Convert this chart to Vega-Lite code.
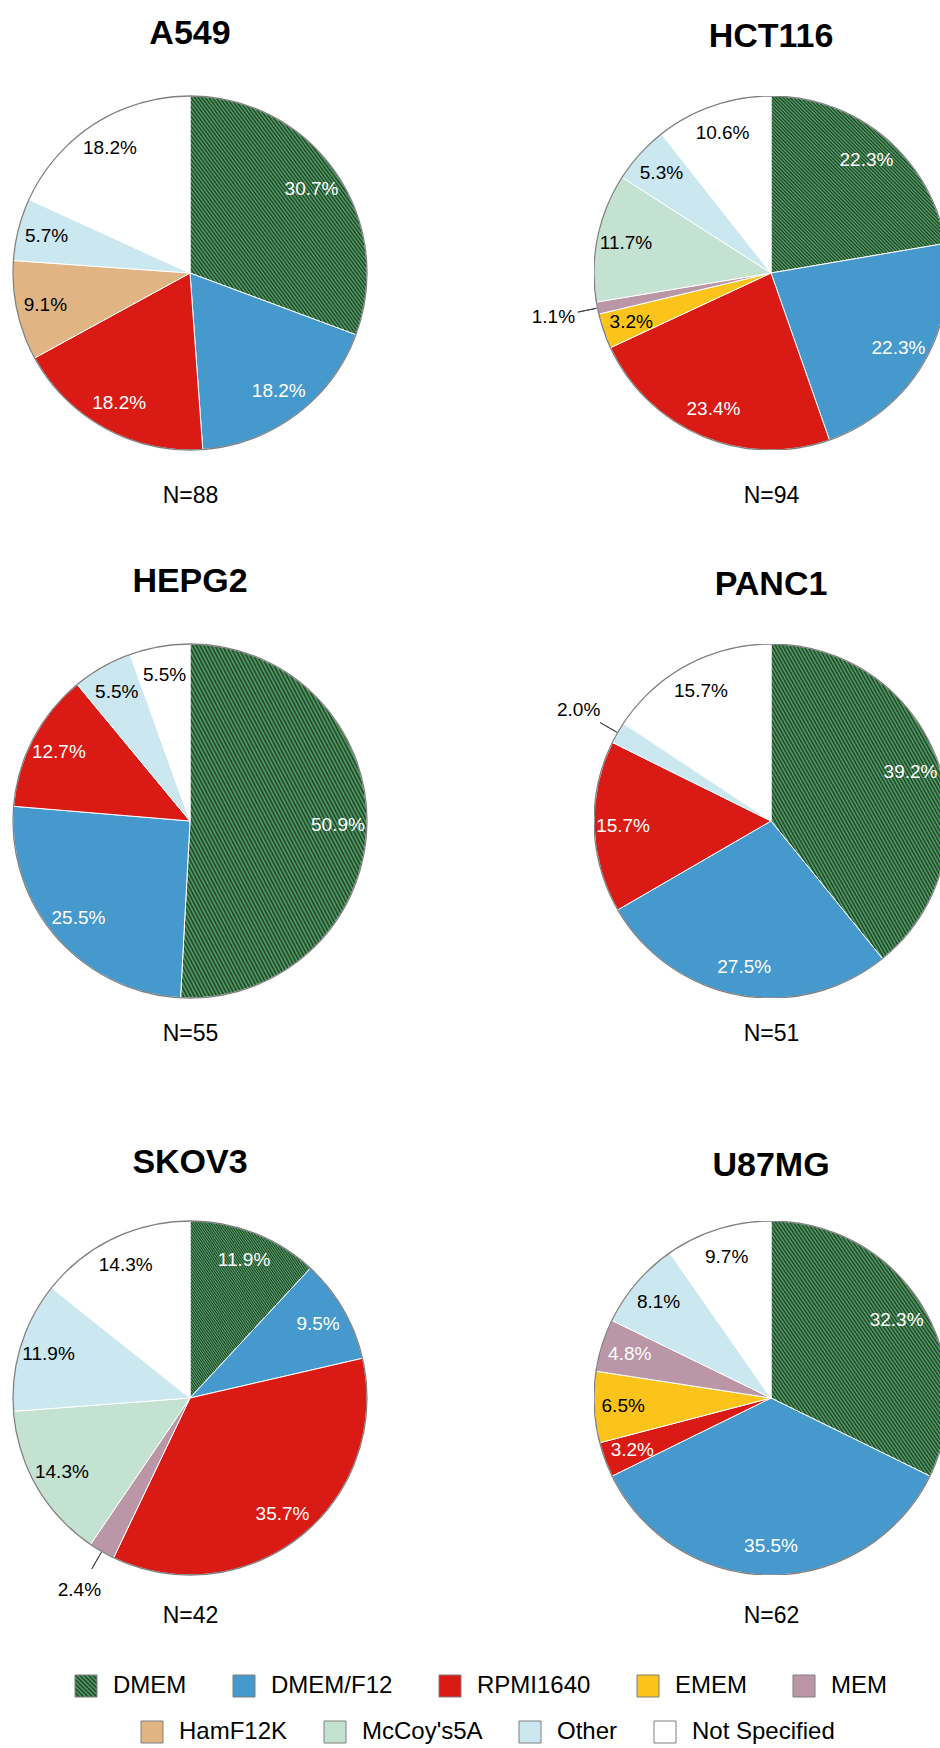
{
"$schema": "https://vega.github.io/schema/vega-lite/v6.json",
"padding": {"left": 10, "top": 17, "right": 0, "bottom": 0},
"params": [
 {"name": "hatch", "value": {"gradient": "linear", "x1": 0, "y1": 1, "x2": 1, "y2": 0, "stops": [
{"offset":0,"color":"#1e3a2a"},{"offset":0.005,"color":"#55a864"},{"offset":0.01,"color":"#1e3a2a"},{"offset":0.015,"color":"#55a864"},{"offset":0.02,"color":"#1e3a2a"},{"offset":0.025,"color":"#55a864"},{"offset":0.03,"color":"#1e3a2a"},{"offset":0.035,"color":"#55a864"},{"offset":0.04,"color":"#1e3a2a"},{"offset":0.045,"color":"#55a864"},
{"offset":0.05,"color":"#1e3a2a"},{"offset":0.055,"color":"#55a864"},{"offset":0.06,"color":"#1e3a2a"},{"offset":0.065,"color":"#55a864"},{"offset":0.07,"color":"#1e3a2a"},{"offset":0.075,"color":"#55a864"},{"offset":0.08,"color":"#1e3a2a"},{"offset":0.085,"color":"#55a864"},{"offset":0.09,"color":"#1e3a2a"},{"offset":0.095,"color":"#55a864"},
{"offset":0.1,"color":"#1e3a2a"},{"offset":0.105,"color":"#55a864"},{"offset":0.11,"color":"#1e3a2a"},{"offset":0.115,"color":"#55a864"},{"offset":0.12,"color":"#1e3a2a"},{"offset":0.125,"color":"#55a864"},{"offset":0.13,"color":"#1e3a2a"},{"offset":0.135,"color":"#55a864"},{"offset":0.14,"color":"#1e3a2a"},{"offset":0.145,"color":"#55a864"},
{"offset":0.15,"color":"#1e3a2a"},{"offset":0.155,"color":"#55a864"},{"offset":0.16,"color":"#1e3a2a"},{"offset":0.165,"color":"#55a864"},{"offset":0.17,"color":"#1e3a2a"},{"offset":0.175,"color":"#55a864"},{"offset":0.18,"color":"#1e3a2a"},{"offset":0.185,"color":"#55a864"},{"offset":0.19,"color":"#1e3a2a"},{"offset":0.195,"color":"#55a864"},
{"offset":0.2,"color":"#1e3a2a"},{"offset":0.205,"color":"#55a864"},{"offset":0.21,"color":"#1e3a2a"},{"offset":0.215,"color":"#55a864"},{"offset":0.22,"color":"#1e3a2a"},{"offset":0.225,"color":"#55a864"},{"offset":0.23,"color":"#1e3a2a"},{"offset":0.235,"color":"#55a864"},{"offset":0.24,"color":"#1e3a2a"},{"offset":0.245,"color":"#55a864"},
{"offset":0.25,"color":"#1e3a2a"},{"offset":0.255,"color":"#55a864"},{"offset":0.26,"color":"#1e3a2a"},{"offset":0.265,"color":"#55a864"},{"offset":0.27,"color":"#1e3a2a"},{"offset":0.275,"color":"#55a864"},{"offset":0.28,"color":"#1e3a2a"},{"offset":0.285,"color":"#55a864"},{"offset":0.29,"color":"#1e3a2a"},{"offset":0.295,"color":"#55a864"},
{"offset":0.3,"color":"#1e3a2a"},{"offset":0.305,"color":"#55a864"},{"offset":0.31,"color":"#1e3a2a"},{"offset":0.315,"color":"#55a864"},{"offset":0.32,"color":"#1e3a2a"},{"offset":0.325,"color":"#55a864"},{"offset":0.33,"color":"#1e3a2a"},{"offset":0.335,"color":"#55a864"},{"offset":0.34,"color":"#1e3a2a"},{"offset":0.345,"color":"#55a864"},
{"offset":0.35,"color":"#1e3a2a"},{"offset":0.355,"color":"#55a864"},{"offset":0.36,"color":"#1e3a2a"},{"offset":0.365,"color":"#55a864"},{"offset":0.37,"color":"#1e3a2a"},{"offset":0.375,"color":"#55a864"},{"offset":0.38,"color":"#1e3a2a"},{"offset":0.385,"color":"#55a864"},{"offset":0.39,"color":"#1e3a2a"},{"offset":0.395,"color":"#55a864"},
{"offset":0.4,"color":"#1e3a2a"},{"offset":0.405,"color":"#55a864"},{"offset":0.41,"color":"#1e3a2a"},{"offset":0.415,"color":"#55a864"},{"offset":0.42,"color":"#1e3a2a"},{"offset":0.425,"color":"#55a864"},{"offset":0.43,"color":"#1e3a2a"},{"offset":0.435,"color":"#55a864"},{"offset":0.44,"color":"#1e3a2a"},{"offset":0.445,"color":"#55a864"},
{"offset":0.45,"color":"#1e3a2a"},{"offset":0.455,"color":"#55a864"},{"offset":0.46,"color":"#1e3a2a"},{"offset":0.465,"color":"#55a864"},{"offset":0.47,"color":"#1e3a2a"},{"offset":0.475,"color":"#55a864"},{"offset":0.48,"color":"#1e3a2a"},{"offset":0.485,"color":"#55a864"},{"offset":0.49,"color":"#1e3a2a"},{"offset":0.495,"color":"#55a864"},
{"offset":0.5,"color":"#1e3a2a"},{"offset":0.505,"color":"#55a864"},{"offset":0.51,"color":"#1e3a2a"},{"offset":0.515,"color":"#55a864"},{"offset":0.52,"color":"#1e3a2a"},{"offset":0.525,"color":"#55a864"},{"offset":0.53,"color":"#1e3a2a"},{"offset":0.535,"color":"#55a864"},{"offset":0.54,"color":"#1e3a2a"},{"offset":0.545,"color":"#55a864"},
{"offset":0.55,"color":"#1e3a2a"},{"offset":0.555,"color":"#55a864"},{"offset":0.56,"color":"#1e3a2a"},{"offset":0.565,"color":"#55a864"},{"offset":0.57,"color":"#1e3a2a"},{"offset":0.575,"color":"#55a864"},{"offset":0.58,"color":"#1e3a2a"},{"offset":0.585,"color":"#55a864"},{"offset":0.59,"color":"#1e3a2a"},{"offset":0.595,"color":"#55a864"},
{"offset":0.6,"color":"#1e3a2a"},{"offset":0.605,"color":"#55a864"},{"offset":0.61,"color":"#1e3a2a"},{"offset":0.615,"color":"#55a864"},{"offset":0.62,"color":"#1e3a2a"},{"offset":0.625,"color":"#55a864"},{"offset":0.63,"color":"#1e3a2a"},{"offset":0.635,"color":"#55a864"},{"offset":0.64,"color":"#1e3a2a"},{"offset":0.645,"color":"#55a864"},
{"offset":0.65,"color":"#1e3a2a"},{"offset":0.655,"color":"#55a864"},{"offset":0.66,"color":"#1e3a2a"},{"offset":0.665,"color":"#55a864"},{"offset":0.67,"color":"#1e3a2a"},{"offset":0.675,"color":"#55a864"},{"offset":0.68,"color":"#1e3a2a"},{"offset":0.685,"color":"#55a864"},{"offset":0.69,"color":"#1e3a2a"},{"offset":0.695,"color":"#55a864"},
{"offset":0.7,"color":"#1e3a2a"},{"offset":0.705,"color":"#55a864"},{"offset":0.71,"color":"#1e3a2a"},{"offset":0.715,"color":"#55a864"},{"offset":0.72,"color":"#1e3a2a"},{"offset":0.725,"color":"#55a864"},{"offset":0.73,"color":"#1e3a2a"},{"offset":0.735,"color":"#55a864"},{"offset":0.74,"color":"#1e3a2a"},{"offset":0.745,"color":"#55a864"},
{"offset":0.75,"color":"#1e3a2a"},{"offset":0.755,"color":"#55a864"},{"offset":0.76,"color":"#1e3a2a"},{"offset":0.765,"color":"#55a864"},{"offset":0.77,"color":"#1e3a2a"},{"offset":0.775,"color":"#55a864"},{"offset":0.78,"color":"#1e3a2a"},{"offset":0.785,"color":"#55a864"},{"offset":0.79,"color":"#1e3a2a"},{"offset":0.795,"color":"#55a864"},
{"offset":0.8,"color":"#1e3a2a"},{"offset":0.805,"color":"#55a864"},{"offset":0.81,"color":"#1e3a2a"},{"offset":0.815,"color":"#55a864"},{"offset":0.82,"color":"#1e3a2a"},{"offset":0.825,"color":"#55a864"},{"offset":0.83,"color":"#1e3a2a"},{"offset":0.835,"color":"#55a864"},{"offset":0.84,"color":"#1e3a2a"},{"offset":0.845,"color":"#55a864"},
{"offset":0.85,"color":"#1e3a2a"},{"offset":0.855,"color":"#55a864"},{"offset":0.86,"color":"#1e3a2a"},{"offset":0.865,"color":"#55a864"},{"offset":0.87,"color":"#1e3a2a"},{"offset":0.875,"color":"#55a864"},{"offset":0.88,"color":"#1e3a2a"},{"offset":0.885,"color":"#55a864"},{"offset":0.89,"color":"#1e3a2a"},{"offset":0.895,"color":"#55a864"},
{"offset":0.9,"color":"#1e3a2a"},{"offset":0.905,"color":"#55a864"},{"offset":0.91,"color":"#1e3a2a"},{"offset":0.915,"color":"#55a864"},{"offset":0.92,"color":"#1e3a2a"},{"offset":0.925,"color":"#55a864"},{"offset":0.93,"color":"#1e3a2a"},{"offset":0.935,"color":"#55a864"},{"offset":0.94,"color":"#1e3a2a"},{"offset":0.945,"color":"#55a864"},
{"offset":0.95,"color":"#1e3a2a"},{"offset":0.955,"color":"#55a864"},{"offset":0.96,"color":"#1e3a2a"},{"offset":0.965,"color":"#55a864"},{"offset":0.97,"color":"#1e3a2a"},{"offset":0.975,"color":"#55a864"},{"offset":0.98,"color":"#1e3a2a"},{"offset":0.985,"color":"#55a864"},{"offset":0.99,"color":"#1e3a2a"},{"offset":0.995,"color":"#55a864"},
{"offset":1,"color":"#1e3a2a"}
 ]}},
 {"name": "hatchL", "value": {"gradient": "linear", "x1": 0, "y1": 1, "x2": 1, "y2": 0, "stops": [
{"offset":0,"color":"#1e3a2a"},{"offset":0.05,"color":"#55a864"},{"offset":0.1,"color":"#1e3a2a"},{"offset":0.15,"color":"#55a864"},{"offset":0.2,"color":"#1e3a2a"},{"offset":0.25,"color":"#55a864"},{"offset":0.3,"color":"#1e3a2a"},{"offset":0.35,"color":"#55a864"},{"offset":0.4,"color":"#1e3a2a"},{"offset":0.45,"color":"#55a864"},{"offset":0.5,"color":"#1e3a2a"},{"offset":0.55,"color":"#55a864"},{"offset":0.6,"color":"#1e3a2a"},{"offset":0.65,"color":"#55a864"},{"offset":0.7,"color":"#1e3a2a"},{"offset":0.75,"color":"#55a864"},{"offset":0.8,"color":"#1e3a2a"},{"offset":0.85,"color":"#55a864"},{"offset":0.9,"color":"#1e3a2a"},{"offset":0.95,"color":"#55a864"},{"offset":1,"color":"#1e3a2a"}
 ]}}
],
"datasets": {"media": [
 {"cell":"A549","n":88,"medium":"DMEM","k":1,"share":0.307},
 {"cell":"A549","n":88,"medium":"DMEM/F12","k":2,"share":0.182},
 {"cell":"A549","n":88,"medium":"RPMI1640","k":3,"share":0.182},
 {"cell":"A549","n":88,"medium":"HamF12K","k":6,"share":0.091},
 {"cell":"A549","n":88,"medium":"Other","k":8,"share":0.057},
 {"cell":"A549","n":88,"medium":"Not Specified","k":9,"share":0.182},
 {"cell":"HCT116","n":94,"medium":"DMEM","k":1,"share":0.223},
 {"cell":"HCT116","n":94,"medium":"DMEM/F12","k":2,"share":0.223},
 {"cell":"HCT116","n":94,"medium":"RPMI1640","k":3,"share":0.234},
 {"cell":"HCT116","n":94,"medium":"EMEM","k":4,"share":0.032},
 {"cell":"HCT116","n":94,"medium":"MEM","k":5,"share":0.011},
 {"cell":"HCT116","n":94,"medium":"McCoy's5A","k":7,"share":0.117},
 {"cell":"HCT116","n":94,"medium":"Other","k":8,"share":0.053},
 {"cell":"HCT116","n":94,"medium":"Not Specified","k":9,"share":0.106},
 {"cell":"HEPG2","n":55,"medium":"DMEM","k":1,"share":0.509},
 {"cell":"HEPG2","n":55,"medium":"DMEM/F12","k":2,"share":0.255},
 {"cell":"HEPG2","n":55,"medium":"RPMI1640","k":3,"share":0.127},
 {"cell":"HEPG2","n":55,"medium":"Other","k":8,"share":0.055},
 {"cell":"HEPG2","n":55,"medium":"Not Specified","k":9,"share":0.055},
 {"cell":"PANC1","n":51,"medium":"DMEM","k":1,"share":0.392},
 {"cell":"PANC1","n":51,"medium":"DMEM/F12","k":2,"share":0.275},
 {"cell":"PANC1","n":51,"medium":"RPMI1640","k":3,"share":0.157},
 {"cell":"PANC1","n":51,"medium":"Other","k":8,"share":0.020},
 {"cell":"PANC1","n":51,"medium":"Not Specified","k":9,"share":0.157},
 {"cell":"SKOV3","n":42,"medium":"DMEM","k":1,"share":0.119},
 {"cell":"SKOV3","n":42,"medium":"DMEM/F12","k":2,"share":0.095},
 {"cell":"SKOV3","n":42,"medium":"RPMI1640","k":3,"share":0.357},
 {"cell":"SKOV3","n":42,"medium":"MEM","k":5,"share":0.024},
 {"cell":"SKOV3","n":42,"medium":"McCoy's5A","k":7,"share":0.143},
 {"cell":"SKOV3","n":42,"medium":"Other","k":8,"share":0.119},
 {"cell":"SKOV3","n":42,"medium":"Not Specified","k":9,"share":0.143},
 {"cell":"U87MG","n":62,"medium":"DMEM","k":1,"share":0.323},
 {"cell":"U87MG","n":62,"medium":"DMEM/F12","k":2,"share":0.355},
 {"cell":"U87MG","n":62,"medium":"RPMI1640","k":3,"share":0.032},
 {"cell":"U87MG","n":62,"medium":"EMEM","k":4,"share":0.065},
 {"cell":"U87MG","n":62,"medium":"MEM","k":5,"share":0.048},
 {"cell":"U87MG","n":62,"medium":"Other","k":8,"share":0.081},
 {"cell":"U87MG","n":62,"medium":"Not Specified","k":9,"share":0.097}
]},
"spacing": 58,
"vconcat": [
 {"hconcat": [
  {"width":354,"height":354,"title":{"text":"A549","offset":42},
   "data":{"name":"media"},"transform":[{"filter":"datum.cell === 'A549'"}],
   "layer":[
    {"mark":{"type":"arc","outerRadius":0},
     "encoding":{"fill":{"field":"medium","type":"nominal","scale":{"domain":["DMEM","DMEM/F12","RPMI1640","EMEM","MEM","HamF12K","McCoy's5A","Other","Not Specified"],"range":[{"expr":"hatchL"},"#4599cd","#da1a14","#fcc31a","#ba96a7","#e1b583","#c4e2d2","#cbe7ef","#ffffff"]},
       "legend":{"values":["DMEM","DMEM/F12","RPMI1640","EMEM","MEM"],"orient":"none","legendX":61,"legendY":1578,"direction":"horizontal","columns":5,"gridAlign":"none","columnPadding":44,"title":null}}}},
    {"mark":{"type":"arc","outerRadius":0},
     "encoding":{"color":{"field":"medium","type":"nominal","scale":{"domain":["HamF12K","McCoy's5A","Other","Not Specified"],"range":["#e1b583","#c4e2d2","#cbe7ef","#ffffff"]},
       "legend":{"orient":"none","legendX":127,"legendY":1624,"direction":"horizontal","columns":4,"gridAlign":"none","columnPadding":34,"title":null}}}},
    {"mark":{"type":"arc","outerRadius":177,"stroke":"#ffffff","strokeWidth":1},
     "encoding":{"theta":{"field":"share","type":"quantitative","stack":"normalize"},"order":{"field":"k","type":"quantitative"},
      "fill":{"condition":{"test":"datum.k === 1","value":{"expr":"hatch"}},"field":"medium","type":"nominal","scale":{"domain":["DMEM","DMEM/F12","RPMI1640","EMEM","MEM","HamF12K","McCoy's5A","Other","Not Specified"],"range":[{"expr":"hatchL"},"#4599cd","#da1a14","#fcc31a","#ba96a7","#e1b583","#c4e2d2","#cbe7ef","#ffffff"]},"legend":null}}},
    {"transform":[{"filter":"datum.k === 1"}],"mark":{"type":"arc","outerRadius":177,"theta":0,"theta2":6.2832,"fill":"transparent","stroke":"#808080","strokeWidth":1.3},"encoding":{}},
    {"mark":{"type":"text","radius":148},
     "encoding":{"theta":{"field":"share","type":"quantitative","stack":"normalize"},"order":{"field":"k","type":"quantitative"},"detail":{"field":"medium","type":"nominal"},
      "text":{"condition":{"test":"datum.share >= 0.03","field":"share","type":"quantitative","format":".1%"},"value":""},
      "fill":{"condition":{"test":"datum.k <= 3 || datum.k === 5","value":"#ffffff"},"value":"#000000"}}},
    {"mark":{"type":"text","text":""},"encoding":{"x":{"field":"n","type":"nominal","axis":{"title":null,"labelExpr":"'N=' + datum.label","labelPadding":34}}}}
   ]},
  {"width":346,"height":354,"title":{"text":"HCT116","offset":42,"dx":4},
   "data":{"name":"media"},"transform":[{"filter":"datum.cell === 'HCT116'"}],
   "resolve":{"scale":{"radius":"independent"}},
   "layer":[
    {"mark":{"type":"arc","outerRadius":177,"stroke":"#ffffff","strokeWidth":1,"clip":true,"xOffset":4},
     "encoding":{"theta":{"field":"share","type":"quantitative","stack":"normalize"},"order":{"field":"k","type":"quantitative"},
      "fill":{"condition":{"test":"datum.k === 1","value":{"expr":"hatch"}},"field":"medium","type":"nominal","scale":{"domain":["DMEM","DMEM/F12","RPMI1640","EMEM","MEM","HamF12K","McCoy's5A","Other","Not Specified"],"range":[{"expr":"hatchL"},"#4599cd","#da1a14","#fcc31a","#ba96a7","#e1b583","#c4e2d2","#cbe7ef","#ffffff"]},"legend":null}}},
    {"transform":[{"filter":"datum.k === 1"}],"mark":{"type":"arc","outerRadius":177,"theta":0,"theta2":6.2832,"fill":"transparent","stroke":"#808080","strokeWidth":1.3,"clip":true,"xOffset":4},"encoding":{}},
    {"mark":{"type":"arc","padAngle":1,"fill":"transparent","stroke":"#404040","strokeWidth":1,"xOffset":4},
     "encoding":{"theta":{"field":"share","type":"quantitative","stack":"normalize"},"order":{"field":"k","type":"quantitative"},"detail":{"field":"medium","type":"nominal"},
      "radius":{"field":"share","type":"quantitative","scale":{"type":"linear","domain":[0.03,0.0299],"range":[0,197],"clamp":true,"nice":false,"zero":false}},
      "radius2":{"value":178},
      "strokeOpacity":{"condition":{"test":"datum.share < 0.03","value":1},"value":0}}},
    {"mark":{"type":"text","radius":148,"xOffset":4},
     "encoding":{"theta":{"field":"share","type":"quantitative","stack":"normalize"},"order":{"field":"k","type":"quantitative"},"detail":{"field":"medium","type":"nominal"},
      "text":{"condition":{"test":"datum.share >= 0.03","field":"share","type":"quantitative","format":".1%"},"value":""},
      "fill":{"condition":{"test":"datum.k <= 3 || datum.k === 5","value":"#ffffff"},"value":"#000000"}}},
    {"mark":{"type":"text","xOffset":4},
     "encoding":{"theta":{"field":"share","type":"quantitative","stack":"normalize"},"order":{"field":"k","type":"quantitative"},"detail":{"field":"medium","type":"nominal"},
      "radius":{"field":"share","type":"quantitative","scale":{"type":"linear","domain":[0.03,0.0299],"range":[0,222],"clamp":true,"nice":false,"zero":false}},
      "text":{"condition":{"test":"datum.share < 0.03","field":"share","type":"quantitative","format":".1%"},"value":""}}},
    {"mark":{"type":"text","text":""},"encoding":{"x":{"field":"n","type":"nominal","axis":{"title":null,"labelExpr":"'N=' + datum.label","labelPadding":34,"labelOffset":4}}}}
   ]}
 ], "spacing": 227, "bounds": "flush"},
 {"spacing": 101, "vconcat": [
  {"hconcat": [
   {"width":354,"height":354,"title":{"text":"HEPG2","offset":42},
    "data":{"name":"media"},"transform":[{"filter":"datum.cell === 'HEPG2'"}],
    "layer":[
     {"mark":{"type":"arc","outerRadius":177,"stroke":"#ffffff","strokeWidth":1},
      "encoding":{"theta":{"field":"share","type":"quantitative","stack":"normalize"},"order":{"field":"k","type":"quantitative"},
       "fill":{"condition":{"test":"datum.k === 1","value":{"expr":"hatch"}},"field":"medium","type":"nominal","scale":{"domain":["DMEM","DMEM/F12","RPMI1640","EMEM","MEM","HamF12K","McCoy's5A","Other","Not Specified"],"range":[{"expr":"hatchL"},"#4599cd","#da1a14","#fcc31a","#ba96a7","#e1b583","#c4e2d2","#cbe7ef","#ffffff"]},"legend":null}}},
     {"transform":[{"filter":"datum.k === 1"}],"mark":{"type":"arc","outerRadius":177,"theta":0,"theta2":6.2832,"fill":"transparent","stroke":"#808080","strokeWidth":1.3},"encoding":{}},
     {"mark":{"type":"text","radius":148},
      "encoding":{"theta":{"field":"share","type":"quantitative","stack":"normalize"},"order":{"field":"k","type":"quantitative"},"detail":{"field":"medium","type":"nominal"},
       "text":{"condition":{"test":"datum.share >= 0.03","field":"share","type":"quantitative","format":".1%"},"value":""},
       "fill":{"condition":{"test":"datum.k <= 3 || datum.k === 5","value":"#ffffff"},"value":"#000000"}}},
     {"mark":{"type":"text","text":""},"encoding":{"x":{"field":"n","type":"nominal","axis":{"title":null,"labelExpr":"'N=' + datum.label","labelPadding":24}}}}
    ]},
   {"width":346,"height":354,"title":{"text":"PANC1","offset":42,"dx":4},
    "data":{"name":"media"},"transform":[{"filter":"datum.cell === 'PANC1'"}],
    "resolve":{"scale":{"radius":"independent"}},
    "layer":[
     {"mark":{"type":"arc","outerRadius":177,"stroke":"#ffffff","strokeWidth":1,"clip":true,"xOffset":4},
      "encoding":{"theta":{"field":"share","type":"quantitative","stack":"normalize"},"order":{"field":"k","type":"quantitative"},
       "fill":{"condition":{"test":"datum.k === 1","value":{"expr":"hatch"}},"field":"medium","type":"nominal","scale":{"domain":["DMEM","DMEM/F12","RPMI1640","EMEM","MEM","HamF12K","McCoy's5A","Other","Not Specified"],"range":[{"expr":"hatchL"},"#4599cd","#da1a14","#fcc31a","#ba96a7","#e1b583","#c4e2d2","#cbe7ef","#ffffff"]},"legend":null}}},
     {"transform":[{"filter":"datum.k === 1"}],"mark":{"type":"arc","outerRadius":177,"theta":0,"theta2":6.2832,"fill":"transparent","stroke":"#808080","strokeWidth":1.3,"clip":true,"xOffset":4},"encoding":{}},
     {"mark":{"type":"arc","padAngle":1,"fill":"transparent","stroke":"#404040","strokeWidth":1,"xOffset":4},
      "encoding":{"theta":{"field":"share","type":"quantitative","stack":"normalize"},"order":{"field":"k","type":"quantitative"},"detail":{"field":"medium","type":"nominal"},
       "radius":{"field":"share","type":"quantitative","scale":{"type":"linear","domain":[0.03,0.0299],"range":[0,197],"clamp":true,"nice":false,"zero":false}},
       "radius2":{"value":178},
       "strokeOpacity":{"condition":{"test":"datum.share < 0.03","value":1},"value":0}}},
     {"mark":{"type":"text","radius":148,"xOffset":4},
      "encoding":{"theta":{"field":"share","type":"quantitative","stack":"normalize"},"order":{"field":"k","type":"quantitative"},"detail":{"field":"medium","type":"nominal"},
       "text":{"condition":{"test":"datum.share >= 0.03","field":"share","type":"quantitative","format":".1%"},"value":""},
       "fill":{"condition":{"test":"datum.k <= 3 || datum.k === 5","value":"#ffffff"},"value":"#000000"}}},
     {"mark":{"type":"text","xOffset":4},
      "encoding":{"theta":{"field":"share","type":"quantitative","stack":"normalize"},"order":{"field":"k","type":"quantitative"},"detail":{"field":"medium","type":"nominal"},
       "radius":{"field":"share","type":"quantitative","scale":{"type":"linear","domain":[0.03,0.0299],"range":[0,222],"clamp":true,"nice":false,"zero":false}},
       "text":{"condition":{"test":"datum.share < 0.03","field":"share","type":"quantitative","format":".1%"},"value":""}}},
     {"mark":{"type":"text","text":""},"encoding":{"x":{"field":"n","type":"nominal","axis":{"title":null,"labelExpr":"'N=' + datum.label","labelPadding":24,"labelOffset":4}}}}
    ]}
  ], "spacing": 227, "bounds": "flush"},
  {"hconcat": [
   {"width":354,"height":354,"title":{"text":"SKOV3","offset":38},
    "data":{"name":"media"},"transform":[{"filter":"datum.cell === 'SKOV3'"}],
    "resolve":{"scale":{"radius":"independent"}},
    "layer":[
     {"mark":{"type":"arc","outerRadius":177,"stroke":"#ffffff","strokeWidth":1},
      "encoding":{"theta":{"field":"share","type":"quantitative","stack":"normalize"},"order":{"field":"k","type":"quantitative"},
       "fill":{"condition":{"test":"datum.k === 1","value":{"expr":"hatch"}},"field":"medium","type":"nominal","scale":{"domain":["DMEM","DMEM/F12","RPMI1640","EMEM","MEM","HamF12K","McCoy's5A","Other","Not Specified"],"range":[{"expr":"hatchL"},"#4599cd","#da1a14","#fcc31a","#ba96a7","#e1b583","#c4e2d2","#cbe7ef","#ffffff"]},"legend":null}}},
     {"transform":[{"filter":"datum.k === 1"}],"mark":{"type":"arc","outerRadius":177,"theta":0,"theta2":6.2832,"fill":"transparent","stroke":"#808080","strokeWidth":1.3},"encoding":{}},
     {"mark":{"type":"arc","padAngle":1,"fill":"transparent","stroke":"#404040","strokeWidth":1},
      "encoding":{"theta":{"field":"share","type":"quantitative","stack":"normalize"},"order":{"field":"k","type":"quantitative"},"detail":{"field":"medium","type":"nominal"},
       "radius":{"field":"share","type":"quantitative","scale":{"type":"linear","domain":[0.03,0.0299],"range":[0,197],"clamp":true,"nice":false,"zero":false}},
       "radius2":{"value":178},
       "strokeOpacity":{"condition":{"test":"datum.share < 0.03","value":1},"value":0}}},
     {"mark":{"type":"text","radius":148},
      "encoding":{"theta":{"field":"share","type":"quantitative","stack":"normalize"},"order":{"field":"k","type":"quantitative"},"detail":{"field":"medium","type":"nominal"},
       "text":{"condition":{"test":"datum.share >= 0.03","field":"share","type":"quantitative","format":".1%"},"value":""},
       "fill":{"condition":{"test":"datum.k <= 3 || datum.k === 5","value":"#ffffff"},"value":"#000000"}}},
     {"mark":{"type":"text"},
      "encoding":{"theta":{"field":"share","type":"quantitative","stack":"normalize"},"order":{"field":"k","type":"quantitative"},"detail":{"field":"medium","type":"nominal"},
       "radius":{"field":"share","type":"quantitative","scale":{"type":"linear","domain":[0.03,0.0299],"range":[0,222],"clamp":true,"nice":false,"zero":false}},
       "text":{"condition":{"test":"datum.share < 0.03","field":"share","type":"quantitative","format":".1%"},"value":""}}},
     {"mark":{"type":"text","text":""},"encoding":{"x":{"field":"n","type":"nominal","axis":{"title":null,"labelExpr":"'N=' + datum.label","labelPadding":29}}}}
    ]},
   {"width":346,"height":354,"title":{"text":"U87MG","offset":38,"dx":4},
    "data":{"name":"media"},"transform":[{"filter":"datum.cell === 'U87MG'"}],
    "layer":[
     {"mark":{"type":"arc","outerRadius":177,"stroke":"#ffffff","strokeWidth":1,"clip":true,"xOffset":4},
      "encoding":{"theta":{"field":"share","type":"quantitative","stack":"normalize"},"order":{"field":"k","type":"quantitative"},
       "fill":{"condition":{"test":"datum.k === 1","value":{"expr":"hatch"}},"field":"medium","type":"nominal","scale":{"domain":["DMEM","DMEM/F12","RPMI1640","EMEM","MEM","HamF12K","McCoy's5A","Other","Not Specified"],"range":[{"expr":"hatchL"},"#4599cd","#da1a14","#fcc31a","#ba96a7","#e1b583","#c4e2d2","#cbe7ef","#ffffff"]},"legend":null}}},
     {"transform":[{"filter":"datum.k === 1"}],"mark":{"type":"arc","outerRadius":177,"theta":0,"theta2":6.2832,"fill":"transparent","stroke":"#808080","strokeWidth":1.3,"clip":true,"xOffset":4},"encoding":{}},
     {"mark":{"type":"text","radius":148,"xOffset":4},
      "encoding":{"theta":{"field":"share","type":"quantitative","stack":"normalize"},"order":{"field":"k","type":"quantitative"},"detail":{"field":"medium","type":"nominal"},
       "text":{"condition":{"test":"datum.share >= 0.03","field":"share","type":"quantitative","format":".1%"},"value":""},
       "fill":{"condition":{"test":"datum.k <= 3 || datum.k === 5","value":"#ffffff"},"value":"#000000"}}},
     {"mark":{"type":"text","text":""},"encoding":{"x":{"field":"n","type":"nominal","axis":{"title":null,"labelExpr":"'N=' + datum.label","labelPadding":29,"labelOffset":4}}}}
    ]}
  ], "spacing": 227, "bounds": "flush"}
 ]}
],
"config": {
 "font": "Liberation Sans",
 "view": {"stroke": null},
 "title": {"fontSize": 34, "fontWeight": "bold", "color": "#000000", "frame": "group", "anchor": "middle"},
 "axis": {"domain": false, "ticks": false, "tickSize": 0, "grid": false, "labelFontSize": 23, "labelColor": "#000000", "labelAngle": 0},
 "text": {"fontSize": 19},
 "legend": {"labelFontSize": 24, "labelColor": "#000000", "symbolType": "square", "symbolSize": 484, "labelOffset": 15, "padding": 0, "labelLimit": 400, "rowPadding": 0, "symbolStrokeColor": "#7f7f7f", "symbolStrokeWidth": 1}
}
}
